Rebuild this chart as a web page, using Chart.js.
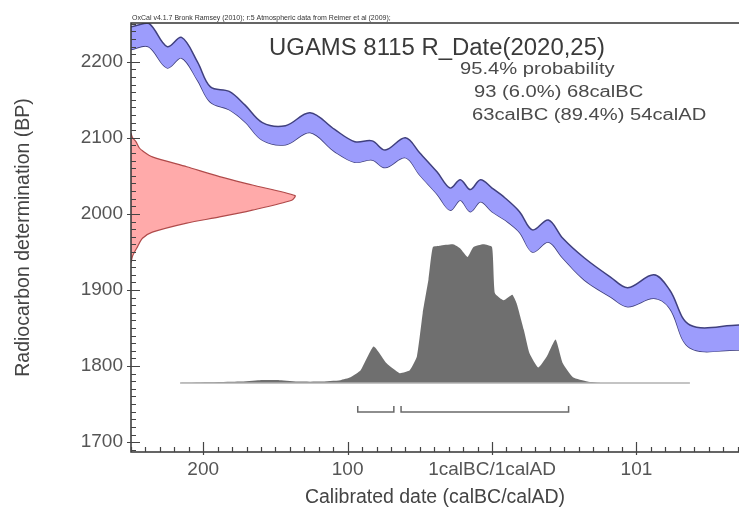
<!DOCTYPE html>
<html>
<head>
<meta charset="utf-8">
<title>UGAMS 8115 R_Date(2020,25)</title>
<script src="https://cdn.jsdelivr.net/npm/chart.js@4.4.0/dist/chart.umd.min.js"></script>
<style>
  html, body { margin: 0; padding: 0; background: #fff; }
  #wrap { width: 739px; height: 522px; position: relative; }
</style>
</head>
<body>
<div id="wrap"><canvas id="oxcal"></canvas></div>
<script>
// calibration curve band, year (negative = calBC) vs radiocarbon age BP
var curveYears = [-250, -238, -225, -215, -204, -195, -182, -171, -159, -143, -126, -109, -95, -83, -74, -60, -50, -38, -29, -22, -15, -8, 0, 9, 19, 28, 39, 49, 64, 82, 94, 112, 123, 137, 171];
var curveUpper = [2246, 2251, 2220, 2232, 2200, 2167, 2161, 2143, 2120, 2116, 2133, 2111, 2095, 2096, 2084, 2100, 2080, 2055, 2034, 2045, 2032, 2045, 2034, 2021, 2003, 1979, 1992, 1968, 1942, 1917, 1903, 1920, 1900, 1854, 1854];
var curveLower = [2216, 2220, 2192, 2205, 2176, 2147, 2137, 2121, 2097, 2091, 2107, 2082, 2068, 2071, 2061, 2074, 2051, 2026, 2005, 2018, 2003, 2016, 2003, 1992, 1976, 1950, 1963, 1942, 1913, 1891, 1878, 1889, 1876, 1824, 1821];

// measured date R_Date(2020,25): radiocarbon age vs relative probability
var dateBP = [2106, 2100, 2095, 2087, 2083, 2075, 2062, 2049, 2038, 2024, 2018, 2005, 1996, 1988, 1976, 1968, 1957, 1945, 1936];
var dateProb = [0, 0.01, 0.03, 0.05, 0.07, 0.13, 0.34, 0.54, 0.74, 1.0, 0.98, 0.74, 0.54, 0.34, 0.13, 0.07, 0.04, 0.01, 0];

// calibrated date: year vs relative probability
var calYears = [-216, -175, -161, -147, -133, -119, -105, -98, -91, -82, -73, -64, -57, -52, -48, -44, -41, -36, -27, -22, -17, -13, -6, 0, 2, 8, 14, 17, 22, 26, 32, 38, 44, 49, 56, 66, 75, 137];
var calProb = [0, 0.01, 0.02, 0.02, 0.01, 0.01, 0.02, 0.04, 0.09, 0.26, 0.14, 0.07, 0.09, 0.19, 0.50, 0.74, 0.97, 0.98, 0.99, 0.96, 0.90, 0.97, 0.99, 0.97, 0.64, 0.59, 0.63, 0.57, 0.38, 0.21, 0.11, 0.19, 0.31, 0.14, 0.04, 0.01, 0, 0];

// 95.4% ranges
var rangeFrom = [-93, -63];
var rangeTo = [-68, 53];
var rangeText = ["93 (6.0%) 68calBC", "63calBC (89.4%) 54calAD"];

var yTickValues = [1700, 1800, 1900, 2000, 2100, 2200];
var xTickValues = [-200, -100, 0, 100];
var xTickLabels = ["200", "100", "1calBC/1calAD", "101"];

var FONT = "'Liberation Sans', Arial, sans-serif";

function pts(xs, ys) {
  return xs.map(function (v, i) { return { x: v, y: ys[i] }; });
}

var datasets = [
  {
    label: "curve upper",
    data: pts(curveYears, curveUpper),
    borderColor: "#40407e",
    borderWidth: 1.5,
    backgroundColor: "#9c9cfc",
    fill: "+1",
    tension: 0.35,
  },
  {
    label: "curve lower",
    data: pts(curveYears, curveLower),
    borderColor: "#40407e",
    borderWidth: 1.5,
    fill: false,
    tension: 0.35,
  },
  {
    label: "R_Date",
    data: pts(dateProb, dateBP),
    xAxisID: "xd",
    borderColor: "#b04a4a",
    borderWidth: 1.2,
    backgroundColor: "#ffaaaa",
    fill: "shape",
    tension: 0.25,
  },
  {
    label: "baseline",
    data: [{ x: calYears[0], y: 0 }, { x: calYears[calYears.length - 1], y: 0 }],
    yAxisID: "yp",
    borderColor: "#b0b0b0",
    borderWidth: 1.5,
    fill: false,
  },
  {
    label: "calibrated",
    data: pts(calYears, calProb),
    yAxisID: "yp",
    borderWidth: 0,
    borderColor: "rgba(0,0,0,0)",
    backgroundColor: "#6f6f6f",
    fill: { value: 0 },
    tension: 0.15,
  },
];

// range brackets below the distribution
rangeFrom.forEach(function (lo, i) {
  var hi = rangeTo[i];
  datasets.push({
    label: "range " + (i + 1),
    data: [{ x: lo, y: -0.165 }, { x: lo, y: -0.207 }, { x: hi, y: -0.207 }, { x: hi, y: -0.165 }],
    yAxisID: "yp",
    borderColor: "#6a6a6a",
    borderWidth: 1.5,
    fill: false,
  });
});

// frame, inner ticks and annotation text
var oxcalPlugin = {
  id: "oxcal",
  afterDraw: function (chart) {
    var c = chart.ctx, a = chart.chartArea;
    var sx = chart.scales.x, sy = chart.scales.y;
    c.save();
    c.strokeStyle = "#333";
    c.lineWidth = 1.5;
    c.beginPath();
    c.moveTo(a.right, a.top); c.lineTo(a.left, a.top);
    c.lineTo(a.left, a.bottom); c.lineTo(a.right, a.bottom);
    c.stroke();

    c.strokeStyle = "#444";
    c.lineWidth = 1.2;
    c.beginPath();
    for (var v = -250; v <= 171; v += 10) {
      var px = Math.round(sx.getPixelForValue(v)) + 0.5;
      var major = v % 100 === 0;
      c.moveTo(px, a.bottom + (major ? 3 : 0));
      c.lineTo(px, a.bottom - (major ? 10 : 5));
    }
    for (var b = 1690; b <= 2250; b += 10) {
      var py = Math.round(sy.getPixelForValue(b)) + 0.5;
      var maj = b % 100 === 0;
      c.moveTo(a.left - (maj ? 4 : 0), py);
      c.lineTo(a.left + (maj ? 9 : 5), py);
    }
    c.stroke();

    c.fillStyle = "#333";
    c.textBaseline = "alphabetic";
    c.font = "7px " + FONT;
    c.fillText("OxCal v4.1.7 Bronk Ramsey (2010); r:5 Atmospheric data from Reimer et al (2009);", a.left + 1, 20);

    c.fillStyle = "#3a3a3a";
    c.font = "23px " + FONT;
    c.save();
    c.translate(269, 55);
    c.scale(1.04, 1);
    c.fillText("UGAMS 8115 R_Date(2020,25)", 0, 0);
    c.restore();

    c.fillStyle = "#4a4a4a";
    c.font = "16px " + FONT;
    var lines = ["95.4% probability"].concat(rangeText);
    var xs = [460, 474, 472], ys = [74, 97, 120];
    lines.forEach(function (t, i) {
      c.save();
      c.translate(xs[i], ys[i]);
      c.scale(1.26, 1);
      c.fillText(t, 0, 0);
      c.restore();
    });

    c.fillStyle = "#444";
    c.font = "19.5px " + FONT;
    c.textAlign = "center";
    c.fillText("Calibrated date (calBC/calAD)", (a.left + a.right) / 2, 503);
    c.save();
    c.translate(29, (a.top + a.bottom) / 2);
    c.rotate(-Math.PI / 2);
    c.fillText("Radiocarbon determination (BP)", 0, 0);
    c.restore();
    c.restore();
  },
};

var ctx = document.getElementById("oxcal").getContext("2d");
var chart = new Chart(ctx, {
  type: "line",
  data: { datasets: datasets },
  options: {
    responsive: true,
    maintainAspectRatio: false,
    animation: false,
    layout: { padding: { top: 23, right: 0, left: 0, bottom: 0 } },
    elements: { point: { radius: 0 }, line: { tension: 0 } },
    plugins: { legend: { display: false }, tooltip: { enabled: false } },
    scales: {
      x: {
        type: "linear",
        position: "bottom",
        min: -250,
        max: 171,
        afterBuildTicks: function (s) { s.ticks = xTickValues.map(function (v) { return { value: v }; }); },
        afterFit: function (s) { s.height = 70; },
        grid: { display: false, drawTicks: false },
        border: { display: false },
        ticks: {
          autoSkip: false,
          maxRotation: 0,
          padding: 6,
          color: "#555",
          font: { family: FONT, size: 19 },
          callback: function (v) { return xTickLabels[xTickValues.indexOf(v)]; },
        },
      },
      y: {
        type: "linear",
        position: "left",
        min: 1687,
        max: 2251,
        afterBuildTicks: function (s) { s.ticks = yTickValues.map(function (v) { return { value: v }; }); },
        afterFit: function (s) { s.width = 131; },
        grid: { display: false, drawTicks: false },
        border: { display: false },
        ticks: {
          padding: 8,
          color: "#555",
          font: { family: FONT, size: 19 },
          callback: function (v) { return String(v); },
        },
      },
      xd: { type: "linear", display: false, min: 0, max: 3.707 },
      yp: { type: "linear", display: false, min: -0.493, max: 2.571 },
    },
  },
  plugins: [oxcalPlugin],
});
</script>
</body>
</html>
